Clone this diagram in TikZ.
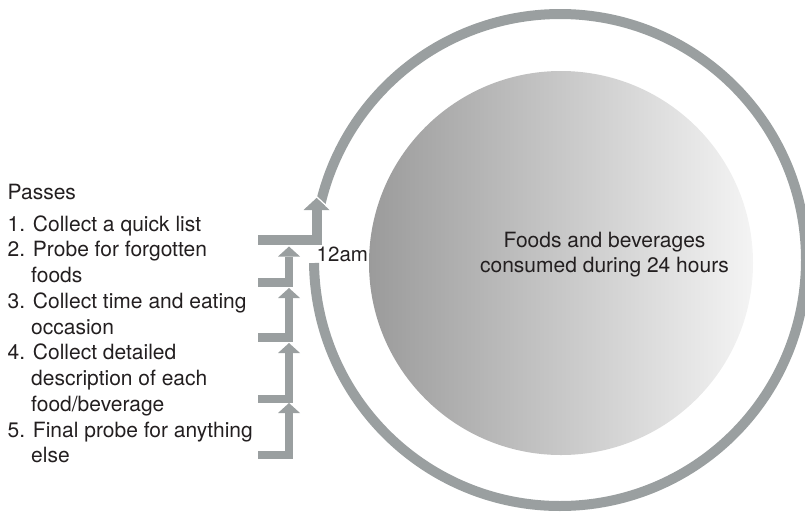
\documentclass[tikz,border=0pt]{standalone}
\usepackage{fontspec}
\setmainfont{TeX Gyre Heros}
\usetikzlibrary{arrows.meta}
\definecolor{ringgray}{HTML}{9A9FA0}
\definecolor{txt}{HTML}{231F20}
\definecolor{discdark}{HTML}{9B9B9B}
\definecolor{disclight}{HTML}{F4F4F4}
\begin{document}
\begin{tikzpicture}[x=1pt,y=1pt,
  listtext/.style={font=\fontsize{21}{25}\selectfont, text=txt, inner sep=0pt, anchor=base west},
  ctext/.style={font=\fontsize{21}{25}\selectfont, text=txt, inner sep=0pt, anchor=base},
  passarrow/.style={draw=ringgray, line width=8.5pt, line join=miter,
    -{Triangle[width=22pt,length=10pt,line width=0pt]}},
  bigarrow/.style={draw=ringgray, line width=10pt, line join=miter,
    -{Triangle[width=26pt,length=12pt,line width=0pt]}},
]
\useasboundingbox (0,0) rectangle (805,-512);

% centre of the 24-hour ring
\coordinate (c) at (560,-260);

% shaded disc of foods and beverages
\shade[left color=discdark, right color=disclight] (561,-263) circle[radius=192];
\node[ctext] (foods1) at (604.5,-247) {Foods and beverages};
\node[ctext] (foods2) at (604.5,-272) {consumed during 24 hours};

% the day ring, open at midnight
\draw[ringgray, line width=10pt] ([shift={(180.7:246)}]c)
  arc[start angle=180.7, end angle=528, radius=246];
\node[listtext, font=\fontsize{20.5}{25}\selectfont] (midnight) at (316.5,-261.5) {12am};

% first pass: arrow leading into the ring
\coordinate (p1s) at (258,-239.5);
\coordinate (p1t) at (316.5,-198);
\draw[white, line width=1.4pt] (315.6,-195.9) -- (332.3,-211.4);
\draw[bigarrow] (p1s) -| (p1t);

% later passes, each climbing to the one above
\coordinate (p2s) at (258,-282.5);  \coordinate (p2t) at (289,-246.5);
\coordinate (p3s) at (258,-337.5);  \coordinate (p3t) at (289,-288);
\coordinate (p4s) at (258,-399);    \coordinate (p4t) at (289,-343);
\coordinate (p5s) at (258,-455);    \coordinate (p5t) at (289,-403);
\foreach \i in {2,...,5}{
  \draw[passarrow] (p\i s) -| (p\i t);
}

% list of passes
\node[listtext] (passes) at (7.5,-199) {Passes};
\node[listtext] (l1)  at (7.5,-231)    {1. Collect a quick list};
\node[listtext] (l2a) at (7.5,-256.75) {2. Probe for forgotten};
\node[listtext] (l2b) at (31,-282.5)   {foods};
\node[listtext] (l3a) at (7.5,-308.25) {3. Collect time and eating};
\node[listtext] (l3b) at (31,-334)     {occasion};
\node[listtext] (l4a) at (7.5,-359.75) {4. Collect detailed};
\node[listtext] (l4b) at (31,-385.5)   {description of each};
\node[listtext] (l4c) at (31,-411.25)  {food/beverage};
\node[listtext] (l5a) at (7.5,-437)    {5. Final probe for anything};
\node[listtext] (l5b) at (31,-462.75)  {else};
\end{tikzpicture}
\end{document}
